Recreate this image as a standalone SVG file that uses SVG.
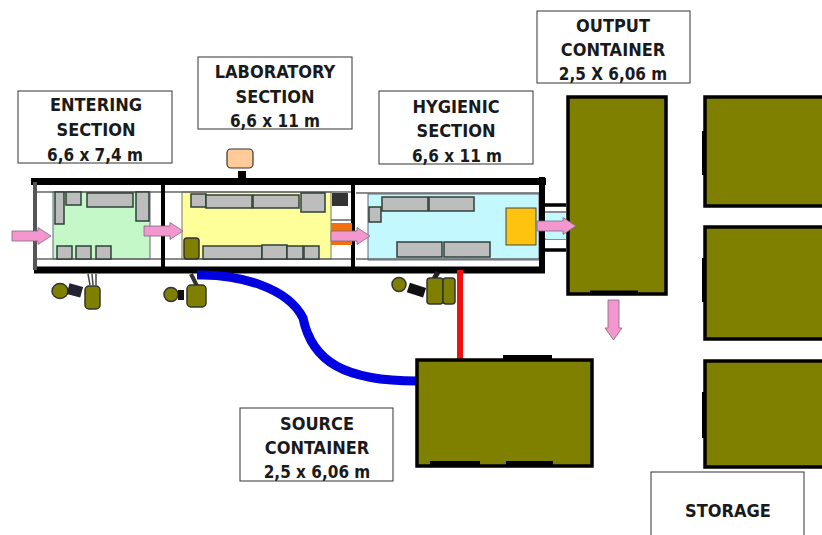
<svg xmlns="http://www.w3.org/2000/svg" width="822" height="535" viewBox="0 0 822 535">
<defs>
<path id="arr" d="M0,-5 H26 V-8.500 L39,0 L26,8.500 V5 H0 Z" fill="#f497cf" stroke="#7a6a78" stroke-width="0.8"/>
</defs>
<style>
text{font-family:"DejaVu Sans Condensed","DejaVu Sans",sans-serif;font-stretch:condensed;font-size:18px;fill:#1a1a1a;text-anchor:middle;font-weight:700}
text.n{font-size:17px}
.box{fill:#fff;stroke:#333;stroke-width:1}
.cont{fill:#808000;stroke:#000;stroke-width:3.5}
.g{fill:#bdbdbd;stroke:#2f4038;stroke-width:1.5}
.o{fill:#808000;stroke:#333;stroke-width:1.5}
.w{fill:none;stroke:#000}
.t{fill:none;stroke:#666;stroke-width:1.4}
</style>
<rect width="822" height="535" fill="#fff"/>
<g id="room-floors">
<rect x="53" y="192" width="97" height="67" fill="#c4f8c8" stroke="#667" stroke-width="1"/>
<rect x="182" y="192" width="149" height="67" fill="#ffff99" stroke="#777" stroke-width="1"/>
<rect x="368" y="194" width="171" height="66" fill="#c4f8ff" stroke="#667" stroke-width="1"/>
</g>
<g id="building">
<path class="t" d="M36,192 H162 M36,259 H162 M165,192 H352 M165,259 H352 M356,193 H540 M356,259 H540 M331,220 H352"/>
<path class="w" stroke-width="7" d="M31,181.500 H546"/>
<path class="w" stroke-width="7" d="M34,270 H545"/>
<path d="M35,182 V270" stroke="#555" stroke-width="4" fill="none"/>
<path class="w" stroke-width="4" d="M163,182 V268 M353,182 V268"/>
<path class="w" stroke-width="6" d="M542,177 V273"/>
<path class="w" stroke-width="3.500" d="M545,205 H566 M545,250 H566"/>
<path class="t" d="M545,212 H566 M545,239 H566"/>
<rect x="546" y="213" width="20" height="26" fill="#c4f8ff"/>
<rect x="238" y="171" width="8" height="10" fill="#000"/>
<rect x="227" y="149" width="26" height="19" rx="4" fill="#ffcc99" stroke="#333" stroke-width="1.2"/>
</g>
<g id="entering-equipment">
<rect class="g" x="55" y="192" width="9" height="32"/><rect class="g" x="66" y="192" width="15" height="13"/><rect class="g" x="87" y="193" width="46" height="14"/><rect class="g" x="136" y="192" width="13" height="29"/>
<rect class="g" x="57" y="246" width="15" height="13"/><rect class="g" x="76" y="246" width="15" height="13"/><rect class="g" x="96" y="246" width="15" height="13"/>
</g>
<g id="laboratory-equipment">
<rect class="g" x="191" y="194" width="15" height="13"/><rect class="g" x="206" y="195" width="46" height="13"/><rect class="g" x="253" y="195" width="46" height="13"/><rect class="g" x="301" y="193" width="24" height="19"/>
<rect x="332" y="193" width="16" height="13" fill="#333"/>
<rect x="331" y="223" width="21" height="22" fill="#f07010"/>
<rect x="184" y="238" width="15" height="21" rx="3" class="o"/>
<rect class="g" x="203" y="246" width="59" height="13"/><rect class="g" x="262" y="245" width="25" height="14"/><rect class="g" x="287" y="246" width="16" height="13"/><rect class="g" x="304" y="246" width="15" height="13"/>
</g>
<g id="hygienic-equipment">
<rect class="g" x="369" y="207" width="12" height="15"/><rect class="g" x="382" y="197" width="46" height="14"/><rect class="g" x="429" y="197" width="45" height="14"/>
<rect class="g" x="397" y="242" width="45" height="15"/><rect class="g" x="444" y="242" width="46" height="15"/>
<rect x="506" y="208" width="30" height="37" fill="#fdc30f" stroke="#444" stroke-width="1"/>
</g>
<g id="connectors">
<path d="M197,275 C240,274 288,288 303,318 C312,362 345,381 417,381" fill="none" stroke="#0000e0" stroke-width="9"/>
<path d="M460,270 V359" fill="none" stroke="#f01010" stroke-width="6"/>
</g>
<g id="carts">
<path d="M88,274 L90,285 M92,274 L93,285 M96,274 L96,285" stroke="#444" stroke-width="1.5"/>
<rect x="85" y="286" width="15" height="23" rx="4" class="o"/>
<ellipse cx="60" cy="291" rx="8" ry="7.500" class="o"/>
<rect x="68" y="285" width="14" height="11" fill="#223" transform="rotate(15 75 290)"/>
<path d="M191,274 L197,286" stroke="#333" stroke-width="4"/>
<rect x="187" y="285" width="19" height="22" rx="4" class="o"/>
<circle cx="171" cy="294.500" r="7" class="o"/>
<rect x="178" y="290" width="6" height="10" fill="#111"/>
<path d="M438,272 L434,279" stroke="#222" stroke-width="5"/>
<rect x="427" y="278" width="16" height="26" rx="3" class="o"/>
<rect x="443" y="278" width="12" height="26" rx="3" class="o"/>
<circle cx="399" cy="284.500" r="7" class="o"/>
<rect x="408" y="285" width="17" height="10" fill="#111" transform="rotate(18 416 290)"/>
</g>
<g id="output-container"><rect class="cont" x="568" y="97" width="98" height="197"/><path d="M590,292 H638" stroke="#000" stroke-width="3"/></g>
<g id="source-container"><rect class="cont" x="417" y="360" width="175" height="106"/><path d="M430,463 H480 M506,463 H553 M503,357 H552" stroke="#000" stroke-width="4"/></g>
<g id="storage-containers">
<rect class="cont" x="705" y="97" width="130" height="109"/>
<rect class="cont" x="705" y="227" width="130" height="112"/>
<rect class="cont" x="705" y="361" width="130" height="106"/>
<path d="M704,131 V175 M704,258 V302 M704,392 V438" stroke="#000" stroke-width="4"/>
</g>
<g id="arrows">
<use href="#arr" x="12" y="236"/><use href="#arr" x="144" y="231"/><use href="#arr" x="331" y="236"/><use href="#arr" x="537" y="226"/>
<path d="M608,300 H619 V328 H622 L613.500,340 L605,328 H608 Z" fill="#f497cf" stroke="#7a6a78" stroke-width=".8"/>
</g>
<g id="entering-section"><rect class="box" x="18" y="91" width="154" height="72"/><text x="96" y="111">ENTERING</text><text x="96" y="136">SECTION</text><text class="n" x="95" y="161">6,6 x 7,4 m</text></g>
<g id="laboratory-section"><rect class="box" x="198" y="57" width="154" height="72"/><text x="275" y="78">LABORATORY</text><text x="275" y="103">SECTION</text><text class="n" x="275" y="127">6,6 x 11 m</text></g>
<g id="hygienic-section"><rect class="box" x="379" y="91" width="154" height="73"/><text x="456" y="113">HYGIENIC</text><text x="456" y="137">SECTION</text><text class="n" x="457" y="162">6,6 x 11 m</text></g>
<g id="output-label"><rect class="box" x="537" y="11" width="153" height="72"/><text x="613" y="32">OUTPUT</text><text x="613" y="56">CONTAINER</text><text class="n" x="613" y="80">2,5 X 6,06 m</text></g>
<g id="source-label"><rect class="box" x="240" y="408" width="153" height="73"/><text x="317" y="430">SOURCE</text><text x="317" y="454">CONTAINER</text><text class="n" x="317" y="478">2,5 x 6,06 m</text></g>
<g id="storage-label"><rect class="box" x="651" y="472" width="153" height="72"/><text x="728" y="517">STORAGE</text></g>
</svg>
